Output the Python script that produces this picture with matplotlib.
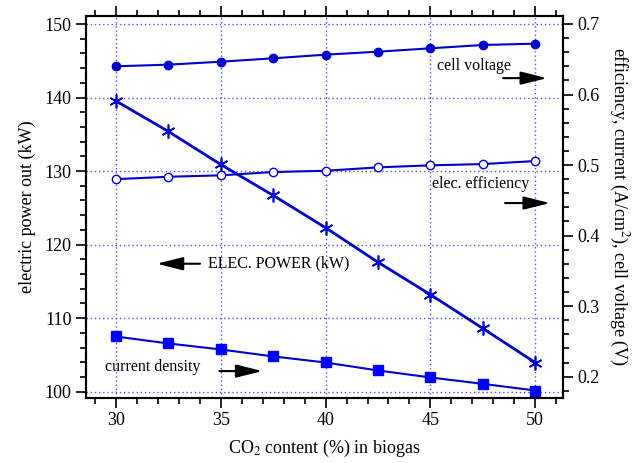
import matplotlib.pyplot as plt
from matplotlib.ticker import MultipleLocator

plt.rcParams['font.family'] = ['Liberation Serif', 'DejaVu Serif']
plt.rcParams['mathtext.fontset'] = 'stix'

co2 = [30, 32.5, 35, 37.5, 40, 42.5, 45, 47.5, 50]
power = [139.55, 135.4, 130.9, 126.7, 122.3, 117.6, 113.2, 108.6, 103.95]
voltage = [0.640, 0.6423, 0.6465, 0.6513, 0.6565, 0.6607, 0.6655, 0.6702, 0.6721]
efficiency = [0.480, 0.4834, 0.4854, 0.4901, 0.4919, 0.4967, 0.4996, 0.5014, 0.5057]
current = [0.257, 0.2471, 0.2386, 0.2287, 0.2201, 0.2088, 0.1989, 0.1898, 0.1804]

blue = '#0000d0'

fig = plt.figure(figsize=(6.35, 4.63), dpi=100)
ax = fig.add_axes([86 / 635, 1 - 397.7 / 463, (563 - 86) / 635, (397.7 - 16) / 463])
ax2 = ax.twinx()

ax.plot(co2, power, color=blue, lw=2, marker=(6, 2, 0), ms=10, mew=1.2, zorder=5)
ax2.plot(co2, voltage, color=blue, lw=1.5, marker='o', ms=6, mfc=blue, mec=blue)
ax2.plot(co2, efficiency, color=blue, lw=1.5, marker='o', ms=6, mfc='white', mec=blue)
ax2.plot(co2, current, color=blue, lw=1.5, marker='s', ms=7, mfc='#0000ff', mec='#0000ff')

ax.set_xlim(28.58, 51.32)
ax.set_ylim(99.18, 151.09)
ax2.set_ylim(0.1702, 0.7113)

ax.xaxis.set_major_locator(MultipleLocator(5))
ax.xaxis.set_minor_locator(MultipleLocator(1))
ax.yaxis.set_major_locator(MultipleLocator(10))
ax.yaxis.set_minor_locator(MultipleLocator(2))
ax2.yaxis.set_major_locator(MultipleLocator(0.1))
ax2.yaxis.set_minor_locator(MultipleLocator(0.02))
ax2.yaxis.set_major_formatter(plt.FuncFormatter(lambda v, p: f'{v:.1f}'))

ax.tick_params(which='both', direction='out', top=True, labelsize=13, width=1.2)
ax.tick_params(which='major', length=7)
ax.tick_params(which='minor', length=4)
ax2.tick_params(which='both', direction='out', labelsize=13, width=1.2)
ax2.tick_params(which='major', length=7)
ax2.tick_params(which='minor', length=4)
for a in (ax, ax2):
    for s in a.spines.values():
        s.set_linewidth(1.5)

ax.grid(True, which='major', color='#5050ff', ls=(0, (1, 2)), lw=1)
ax.set_axisbelow(True)

ax.set_xlabel('CO$_2$ content (%) in biogas', fontsize=13, labelpad=6)
ax.set_ylabel('electric power out (kW)', fontsize=13, labelpad=6)
ax2.set_ylabel('efficiency, current (A/cm$^2$), cell voltage (V)', fontsize=13,
               rotation=270, labelpad=22)

arrow = dict(arrowstyle='-|>,head_length=1.6,head_width=0.4', color='black', lw=1.5,
             shrinkA=0, shrinkB=0)
ax.text(45.3, 144.3, 'cell voltage', fontsize=11.5, va='center')
ax.annotate('', xy=(50.56, 142.64), xytext=(48.46, 142.64), arrowprops=arrow)
ax.text(45.09, 128.2, 'elec. efficiency', fontsize=11.5, va='center')
ax.annotate('', xy=(50.7, 125.65), xytext=(48.56, 125.65), arrowprops=arrow)
ax.text(34.41, 117.4, 'ELEC. POWER (kW)', fontsize=11.5, va='center')
ax.annotate('', xy=(31.95, 117.4), xytext=(34.02, 117.4), arrowprops=arrow)
ax.text(29.49, 103.3, 'current density', fontsize=11.5, va='center')
ax.annotate('', xy=(36.99, 102.8), xytext=(34.94, 102.8), arrowprops=arrow)

plt.savefig('out.png', dpi=100)
